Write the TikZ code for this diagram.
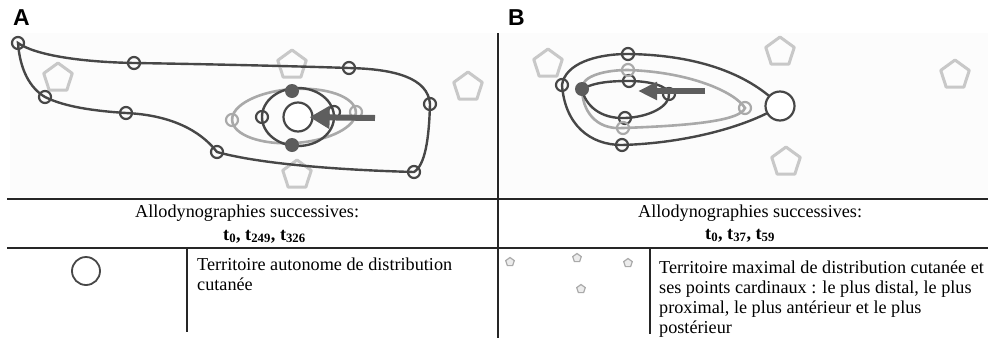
\documentclass[tikz,border=0pt]{standalone}
\usepackage{fontspec}
\setmainfont{Liberation Serif}
\newfontfamily\labelfont{Liberation Sans}
\usetikzlibrary{shapes.geometric,arrows.meta}

\definecolor{inkdark}{HTML}{474747}
\definecolor{inklight}{HTML}{A9A9A9}
\definecolor{pentcol}{HTML}{C8C8C8}
\definecolor{dotcol}{HTML}{5C5C5C}
\definecolor{arrowcol}{HTML}{5E5E5E}
\definecolor{panelbg}{HTML}{FCFCFC}

\begin{document}
\begin{tikzpicture}[x=1pt,y=1pt,
  rule/.style={line width=1.3pt, black!85},
  contour/.style={line width=2.4pt, inkdark},
  contourlight/.style={line width=2.6pt, inklight},
  marker/.style={circle, draw=inkdark, line width=2.2pt, minimum size=12pt, inner sep=0pt},
  markerlight/.style={marker, draw=inklight},
  filleddot/.style={circle, fill=dotcol, minimum size=14pt, inner sep=0pt},
  territory/.style={circle, draw=inkdark, line width=2.2pt, fill=white, minimum size=29pt, inner sep=0pt},
  pent/.style={regular polygon, regular polygon sides=5, draw=pentcol, line width=3pt, line join=round, minimum size=30pt, inner sep=0pt},
  smallpent/.style={regular polygon, regular polygon sides=5, draw=pentcol!85!black, fill=pentcol!35, line width=1.2pt, minimum size=9pt, inner sep=0pt},
  movearrow/.style={line width=6pt, arrowcol, -{Triangle[length=20pt,width=22pt]}},
  txt/.style={inner sep=0pt, anchor=base west, font=\fontsize{18.2}{20}\selectfont},
  panellabel/.style={inner sep=0pt, anchor=base west, font=\labelfont\bfseries\fontsize{23}{23}\selectfont}
]
\useasboundingbox (0,0) rectangle (991,-338);

% faint backgrounds of the two drawing panels
\fill[panelbg] (10,-33) rectangle (496,-197);
\fill[panelbg] (500,-33) rectangle (988,-197);

% panel letters
\node[panellabel] (labA) at (13,-25) {A};
\node[panellabel] (labB) at (508,-25) {B};

% ---------- panel A ----------
% cardinal points
\node[pent] (pA1) at (58,-78) {};
\node[pent] (pA2) at (292,-65) {};
\node[pent] (pA3) at (468,-87) {};
\node[pent] (pA4) at (297,-175) {};

% large contour
\coordinate (a1) at (18,-43);
\coordinate (a2) at (134,-63);
\coordinate (a3) at (349,-68);
\coordinate (a4) at (430,-104);
\coordinate (a5) at (414,-172);
\coordinate (a6) at (217,-152);
\coordinate (a7) at (126,-113);
\coordinate (a8) at (45,-97);
\draw[contour] (a1) .. controls (35,-55) and (80,-62) .. (a2)
  .. controls (200,-64) and (290,-66) .. (a3)
  .. controls (395,-69) and (428,-78) .. (a4)
  .. controls (429,-140) and (425,-165) .. (a5)
  .. controls (340,-170) and (260,-164) .. (a6)
  .. controls (200,-130) and (170,-115) .. (a7)
  .. controls (95,-111) and (65,-107) .. (a8)
  .. controls (30,-88) and (20,-70) .. cycle;
\foreach \p in {a1,a2,a3,a4,a5,a6,a7,a8}
  \node[marker] (m\p) at (\p) {};

% intermediate contour
\draw[contourlight, rotate around={4:(294,-116)}] (294,-116) ellipse [x radius=62, y radius=27];
\node[markerlight] (mAl1) at (232,-120) {};
\node[markerlight] (mAl2) at (356,-112) {};

% small contour
\draw[contour] (298,-117) ellipse [x radius=36, y radius=29];
\node[marker] (mAs1) at (262,-117) {};
\node[marker] (mAs2) at (334,-112) {};
\node[filleddot] (dA1) at (292,-91) {};
\node[filleddot] (dA2) at (292,-145) {};

% autonomous territory and direction of change
\node[territory] (terrA) at (298,-117) {};
\coordinate (arrA) at (375,-118);
\draw[movearrow, shorten >=-4pt] (arrA) -- (terrA);

% ---------- panel B ----------
\node[pent] (pB1) at (548,-64) {};
\node[pent] (pB2) at (780,-52) {};
\node[pent] (pB3) at (955,-75) {};
\node[pent] (pB4) at (786,-162) {};

% large contour
\coordinate (b1) at (628,-54);
\coordinate (b2) at (562,-85);
\coordinate (b3) at (622,-145);
\coordinate (bc) at (780,-106);
\draw[contour] (b2) .. controls (565,-64) and (595,-54) .. (b1)
  .. controls (700,-55) and (750,-75) .. (bc)
  .. controls (750,-125) and (690,-143) .. (b3)
  .. controls (590,-145) and (565,-125) .. cycle;

% intermediate contour
\coordinate (g1) at (628,-70);
\coordinate (g2) at (745,-108);
\coordinate (g3) at (623,-128);
\draw[contourlight] (g1) .. controls (690,-72) and (735,-92) .. (g2)
  .. controls (740,-122) and (680,-126) .. (g3)
  .. controls (595,-130) and (582,-110) .. (582,-88)
  .. controls (582,-76) and (605,-70) .. cycle;

% small contour
\coordinate (s0) at (582,-89);
\coordinate (s1) at (629,-81);
\coordinate (s2) at (669,-94);
\coordinate (s3) at (625,-118);
\draw[contour] (s0) .. controls (595,-82) and (612,-81) .. (s1)
  .. controls (650,-81) and (668,-86) .. (s2)
  .. controls (670,-106) and (650,-117) .. (s3)
  .. controls (600,-119) and (585,-105) .. cycle;

\foreach \p in {b1,b2,b3,s1,s2,s3}
  \node[marker] (m\p) at (\p) {};
\foreach \p in {g1,g2,g3}
  \node[markerlight] (m\p) at (\p) {};
\node[filleddot] (dB) at (s0) {};

\node[territory] (terrB) at (bc) {};
\coordinate (arrBstart) at (705,-91);
\coordinate (arrBend) at (638,-91);
\draw[movearrow, -{Triangle[length=19pt,width=17pt]}] (arrBstart) -- (arrBend);

% ---------- table ----------
\draw[rule] (7,-199) -- (988,-199);
\draw[rule] (7,-248) -- (988,-248);
\draw[rule] (498,-33) -- (498,-338);
\draw[rule] (187,-248) -- (187,-332);
\draw[rule] (650,-248) -- (650,-334);

\node[txt] (hA1) at (135,-217) {Allodynographies successives:};
\node[txt] (hA2) at (223,-240) {\textbf{t\textsubscript{0}, t\textsubscript{249}, t\textsubscript{326}}};
\node[txt] (hB1) at (638,-217) {Allodynographies successives:};
\node[txt] (hB2) at (705,-239) {\textbf{t\textsubscript{0}, t\textsubscript{37}, t\textsubscript{59}}};

% legend: autonomous territory
\node[circle, draw=inkdark, line width=1.8pt, minimum size=28pt, inner sep=0pt] (legC) at (86,-271) {};
\node[txt] (legA1) at (197,-270) {Territoire autonome de distribution};
\node[txt] (legA2) at (197,-290) {cutanée};

% legend: maximal territory and its cardinal points
\node[smallpent] (sp1) at (510,-262) {};
\node[smallpent] (sp2) at (577,-258) {};
\node[smallpent] (sp3) at (628,-263) {};
\node[smallpent] (sp4) at (581,-289) {};
\node[txt] (legB1) at (659,-273) {Territoire maximal de distribution cutanée et};
\node[txt] (legB2) at (659,-293) {ses points cardinaux : le plus distal, le plus};
\node[txt] (legB3) at (659,-313) {proximal, le plus antérieur et le plus};
\node[txt] (legB4) at (659,-333) {postérieur};
\end{tikzpicture}
\end{document}
